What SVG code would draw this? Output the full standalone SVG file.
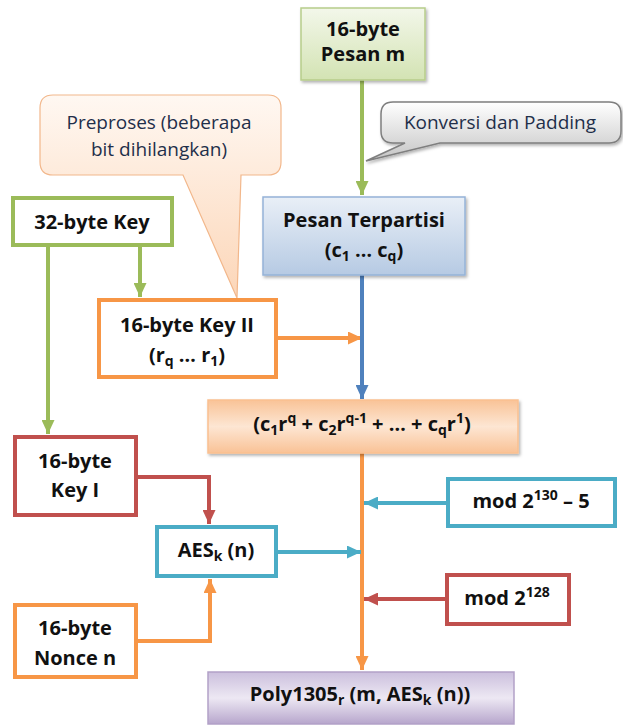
<svg xmlns="http://www.w3.org/2000/svg" width="623" height="725" viewBox="0 0 623 725">
<defs>
<style>
.t{font-family:"Open Sans","DejaVu Sans",sans-serif;font-weight:bold;font-size:20px;fill:#111;text-anchor:middle}
.c{font-family:"Open Sans","DejaVu Sans",sans-serif;font-size:19px;fill:#1f2f4a;text-anchor:middle}
.box{fill:#fff;stroke-width:4}
.g{stroke:#9bbb59}.o{stroke:#f79646}.r{stroke:#c0504d}.b{stroke:#4bacc6}
.ln{fill:none;stroke-width:4}
.s{font-size:14px}
</style>
<linearGradient id="gGreen" x1="0" y1="0" x2="0" y2="1"><stop offset="0" stop-color="#f3f7ea"/><stop offset="1" stop-color="#d3e3b3"/></linearGradient>
<linearGradient id="gBlue" x1="0" y1="0" x2="0" y2="1"><stop offset="0" stop-color="#e9eff7"/><stop offset="1" stop-color="#b6cae3"/></linearGradient>
<linearGradient id="gOrange" x1="0" y1="0" x2="0" y2="1"><stop offset="0" stop-color="#f9c397"/><stop offset="0.5" stop-color="#fde6d3"/><stop offset="1" stop-color="#f9c296"/></linearGradient>
<linearGradient id="gPurple" x1="0" y1="0" x2="0" y2="1"><stop offset="0" stop-color="#cbbfdd"/><stop offset="0.5" stop-color="#ede8f3"/><stop offset="1" stop-color="#b7a6cc"/></linearGradient>
<linearGradient id="gPeach" x1="0" y1="0" x2="0" y2="1"><stop offset="0" stop-color="#fff8f2"/><stop offset="1" stop-color="#fcd6b8"/></linearGradient>
<linearGradient id="gGrey" x1="0" y1="0" x2="0" y2="1"><stop offset="0" stop-color="#ffffff"/><stop offset="1" stop-color="#c4c4c4"/></linearGradient>
<filter id="sh" x="-10%" y="-10%" width="130%" height="140%"><feDropShadow dx="1.5" dy="2" stdDeviation="1.5" flood-color="#000" flood-opacity="0.3"/></filter>
<marker id="aG" markerUnits="userSpaceOnUse" markerWidth="14" markerHeight="13" refX="14" refY="6.5" orient="auto"><path d="M0,0 L14,6.5 L0,13 z" fill="#9bbb59"/></marker>
<marker id="aO" markerUnits="userSpaceOnUse" markerWidth="14" markerHeight="13" refX="14" refY="6.5" orient="auto"><path d="M0,0 L14,6.5 L0,13 z" fill="#f79646"/></marker>
<marker id="aR" markerUnits="userSpaceOnUse" markerWidth="14" markerHeight="13" refX="14" refY="6.5" orient="auto"><path d="M0,0 L14,6.5 L0,13 z" fill="#c0504d"/></marker>
<marker id="aB" markerUnits="userSpaceOnUse" markerWidth="14" markerHeight="13" refX="14" refY="6.5" orient="auto"><path d="M0,0 L14,6.5 L0,13 z" fill="#4bacc6"/></marker>
<marker id="aD" markerUnits="userSpaceOnUse" markerWidth="14" markerHeight="13" refX="14" refY="6.5" orient="auto"><path d="M0,0 L14,6.5 L0,13 z" fill="#4f81bd"/></marker>
</defs>
<rect width="623" height="725" fill="#fff"/>

<g id="connectors">
<path class="ln" stroke="#9bbb59" d="M362,80 V195" marker-end="url(#aG)"/>
<path class="ln" stroke="#9bbb59" d="M48,246 V434" marker-end="url(#aG)"/>
<path class="ln" stroke="#9bbb59" d="M140,246 V297" marker-end="url(#aG)"/>
<path class="ln" stroke="#f79646" d="M277,338 H362" marker-end="url(#aO)"/>
<path class="ln" stroke="#4f81bd" d="M362,275 V399" marker-end="url(#aD)"/>
<path class="ln" stroke="#f79646" d="M362,453 V670" marker-end="url(#aO)"/>
<path class="ln" stroke="#c0504d" d="M137,477 H209 V524" marker-end="url(#aR)"/>
<path class="ln" stroke="#4bacc6" d="M277,552 H361" marker-end="url(#aB)"/>
<path class="ln" stroke="#4bacc6" d="M446,503 H364" marker-end="url(#aB)"/>
<path class="ln" stroke="#c0504d" d="M445,599 H364" marker-end="url(#aR)"/>
<path class="ln" stroke="#f79646" d="M137,641 H210 V579" marker-end="url(#aO)"/>
</g>

<g id="callout-konversi">
<path d="M393,102 H609 Q621,102 621,114 V131 Q621,143 609,143 H440 L366,161 L405,143 H393 Q381,143 381,131 V114 Q381,102 393,102 Z" fill="url(#gGrey)" stroke="#7f7f7f" stroke-width="1.5" filter="url(#sh)"/>
<text class="c" x="500" y="129">Konversi dan Padding</text>
</g>

<g id="callout-preproses">
<path d="M53,95 H268 Q281,95 281,108 V162 Q281,175 268,175 H241 L237,298 L183,175 H53 Q40,175 40,162 V108 Q40,95 53,95 Z" fill="url(#gPeach)" stroke="#f2b78b" stroke-width="1.2"/>
<text class="c" x="159" y="129">Preproses (beberapa</text>
<text class="c" x="159" y="156">bit dihilangkan)</text>
</g>

<g id="n-pesan-m">
<rect x="301" y="8" width="124" height="72" fill="url(#gGreen)" stroke="#b7cd8a" stroke-width="1.5" filter="url(#sh)"/>
<text class="t" x="363" y="36">16-byte</text>
<text class="t" x="363" y="61">Pesan m</text>
</g>

<g id="n-32key">
<rect class="box g" x="13" y="198" width="159" height="47"/>
<text class="t" x="92" y="229">32-byte Key</text>
</g>

<g id="n-terpartisi">
<rect x="263" y="197" width="202" height="78" fill="url(#gBlue)" stroke="#95b3d7" stroke-width="1.5" filter="url(#sh)"/>
<text class="t" x="364" y="227">Pesan Terpartisi</text>
<text class="t" x="364" y="257">(c<tspan class="s" dy="4">1</tspan><tspan dy="-4"> … c</tspan><tspan class="s" dy="4">q</tspan><tspan dy="-4">)</tspan></text>
</g>

<g id="n-key2">
<rect class="box o" x="99" y="300" width="177" height="77"/>
<text class="t" x="187" y="332">16-byte Key II</text>
<text class="t" x="187" y="362">(r<tspan class="s" dy="4">q</tspan><tspan dy="-4"> … r</tspan><tspan class="s" dy="4">1</tspan><tspan dy="-4">)</tspan></text>
</g>

<g id="n-poly">
<rect x="208" y="400" width="310" height="53" fill="url(#gOrange)" stroke="#fac090" stroke-width="1.5" filter="url(#sh)"/>
<text class="t" x="362" y="431">(c<tspan class="s" dy="4">1</tspan><tspan dy="-4">r</tspan><tspan class="s" dy="-8">q</tspan><tspan dy="8"> + c</tspan><tspan class="s" dy="4">2</tspan><tspan dy="-4">r</tspan><tspan class="s" dy="-8">q-1</tspan><tspan dy="8"> + … + c</tspan><tspan class="s" dy="4">q</tspan><tspan dy="-4">r</tspan><tspan class="s" dy="-8">1</tspan><tspan dy="8">)</tspan></text>
</g>

<g id="n-key1">
<rect class="box r" x="15" y="437" width="121" height="78"/>
<text class="t" x="75" y="468">16-byte</text>
<text class="t" x="75" y="497">Key I</text>
</g>

<g id="n-mod130">
<rect class="box b" x="448" y="479" width="167" height="47"/>
<text class="t" x="531" y="508">mod 2<tspan class="s" dy="-8">130</tspan><tspan dy="8"> – 5</tspan></text>
</g>

<g id="n-aes">
<rect class="box b" x="157" y="527" width="119" height="49"/>
<text class="t" x="216" y="557">AES<tspan class="s" dy="4">k</tspan><tspan dy="-4"> (n)</tspan></text>
</g>

<g id="n-mod128">
<rect class="box r" x="447" y="575" width="122" height="49"/>
<text class="t" x="507" y="605">mod 2<tspan class="s" dy="-8">128</tspan></text>
</g>

<g id="n-nonce">
<rect class="box o" x="15" y="605" width="121" height="72"/>
<text class="t" x="75" y="635">16-byte</text>
<text class="t" x="75" y="665">Nonce n</text>
</g>

<g id="n-poly1305">
<rect x="208" y="672" width="306" height="52" fill="url(#gPurple)" stroke="#b2a1c7" stroke-width="1.5"/>
<text class="t" x="360" y="701">Poly1305<tspan class="s" dy="4">r</tspan><tspan dy="-4"> (m, AES</tspan><tspan class="s" dy="4">k</tspan><tspan dy="-4"> (n))</tspan></text>
</g>
</svg>
